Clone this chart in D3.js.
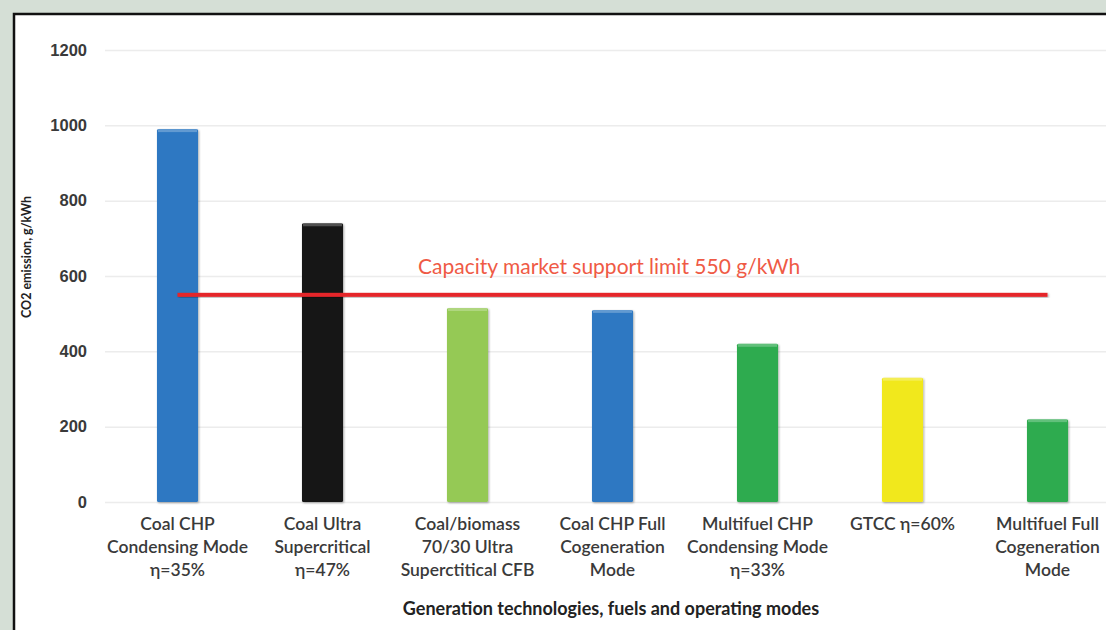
<!DOCTYPE html>
<html>
<head>
<meta charset="utf-8">
<script src="https://d3js.org/d3.v7.min.js"></script>
<style>
  body { margin: 0; background: #d5dfd6; }
  svg { display: block; font-family: Lato, "Open Sans", sans-serif; }
</style>
</head>
<body>
<div id="chart"></div>
<script>
// data
var categories = [
  ["Coal CHP", "Condensing Mode", "\u03b7=35%"],
  ["Coal Ultra", "Supercritical", "\u03b7=47%"],
  ["Coal/biomass", "70/30 Ultra", "Superctitical CFB"],
  ["Coal CHP Full", "Cogeneration", "Mode"],
  ["Multifuel CHP", "Condensing Mode", "\u03b7=33%"],
  ["GTCC \u03b7=60%"],
  ["Multifuel Full", "Cogeneration", "Mode"]
];
var emissions = [990, 740, 515, 510, 420, 330, 220];
var barColors = ["#2f78c2", "#121212", "#95c955", "#2f78c2", "#2fab4f", "#f1e81c", "#2fab4f"];
var yTicks = [0, 200, 400, 600, 800, 1000, 1200];
var limitValue = 550;
var limitLabel = "Capacity market support limit 550 g/kWh";

var W = 1106, H = 630;
var margin = { top: 50, left: 105 },
  plotW = 1015,
  plotH = 452;

var svg = d3.select("#chart").append("svg")
  .attr("width", W).attr("height", H);

// white panel with black frame
svg.append("rect")
  .attr("x", 14).attr("y", 14)
  .attr("width", W + 20).attr("height", H + 20)
  .attr("fill", "#fff")
  .attr("stroke", "#111").attr("stroke-width", 2.5);

var defs = svg.append("defs");
var shadow = defs.append("filter").attr("id", "shadow")
  .attr("x", "-20%").attr("y", "-20%").attr("width", "140%").attr("height", "140%");
shadow.append("feDropShadow")
  .attr("dx", 1).attr("dy", 1).attr("stdDeviation", 1)
  .attr("flood-color", "#000").attr("flood-opacity", 0.35);

var g = svg.append("g")
  .attr("transform", "translate(" + margin.left + "," + margin.top + ")");

var x = d3.scaleBand()
  .domain(d3.range(categories.length))
  .range([0, plotW])
  .paddingInner(0.717)
  .paddingOuter(0.3585);

var y = d3.scaleLinear().domain([0, 1200]).range([plotH, 0]);

// gridlines + tick labels
var yAxis = g.append("g")
  .call(d3.axisLeft(y).tickValues(yTicks).tickFormat(d3.format("d"))
    .tickSize(-(W - margin.left)).tickPadding(18));
yAxis.select(".domain").remove();
yAxis.selectAll(".tick line").attr("stroke", "#ececec").attr("stroke-width", 1.5);
yAxis.selectAll(".tick text")
  .attr("fill", "#3a3a3a")
  .style("font-size", "16.5px")
  .style("font-weight", "600");

// bars
g.selectAll("rect.bar")
  .data(emissions)
  .join("rect")
  .attr("class", "bar")
  .attr("x", function (d, i) { return x(i); })
  .attr("y", function (d) { return y(d); })
  .attr("width", x.bandwidth())
  .attr("height", function (d) { return plotH - y(d); })
  .attr("rx", 1.5)
  .attr("fill", function (d, i) { return barColors[i]; })
  .attr("filter", "url(#shadow)");

// light top edge on bars
g.selectAll("rect.hl")
  .data(emissions)
  .join("rect")
  .attr("class", "hl")
  .attr("x", function (d, i) { return x(i) + 1; })
  .attr("y", function (d) { return y(d); })
  .attr("width", x.bandwidth() - 2)
  .attr("height", 3)
  .attr("fill", "#fff")
  .attr("opacity", 0.25);

// category labels
var labels = g.selectAll("text.cat")
  .data(categories)
  .join("text")
  .attr("class", "cat")
  .attr("text-anchor", "middle")
  .attr("fill", "#3a3a3a")
  .style("font-size", "17.5px")
  .style("font-weight", "600")
  .attr("transform", function (d, i) {
    return "translate(" + (x(i) + x.bandwidth() / 2) + "," + (plotH + 28) + ")";
  });
labels.selectAll("tspan")
  .data(function (d) { return d; })
  .join("tspan")
  .attr("x", 0)
  .attr("dy", function (d, i) { return i === 0 ? 0 : 23; })
  .text(function (d) { return d; });

// limit line (drawn as a thin rect so the shadow filter has a box)
var x0 = x(0) + x.bandwidth() / 2,
  x1 = x(categories.length - 1) + x.bandwidth() / 2;
g.append("rect")
  .attr("x", x0)
  .attr("y", y(limitValue) - 2)
  .attr("width", x1 - x0)
  .attr("height", 4)
  .attr("fill", "#e5262a")
  .attr("filter", "url(#shadow)");

g.append("text")
  .attr("x", 313)
  .attr("y", y(limitValue) - 21)
  .attr("fill", "#ef5a45")
  .style("font-size", "21px")
  .text(limitLabel);

// axis titles
svg.append("text")
  .attr("x", 611).attr("y", 615)
  .attr("text-anchor", "middle")
  .attr("fill", "#222")
  .style("font-size", "18px")
  .style("font-weight", "700")
  .text("Generation technologies, fuels and operating modes");

svg.append("text")
  .attr("transform", "translate(31,257) rotate(-90)")
  .attr("text-anchor", "middle")
  .attr("fill", "#222")
  .style("font-size", "12.5px")
  .style("font-weight", "700")
  .text("CO2 emission, g/kWh");
</script>
</body>
</html>
